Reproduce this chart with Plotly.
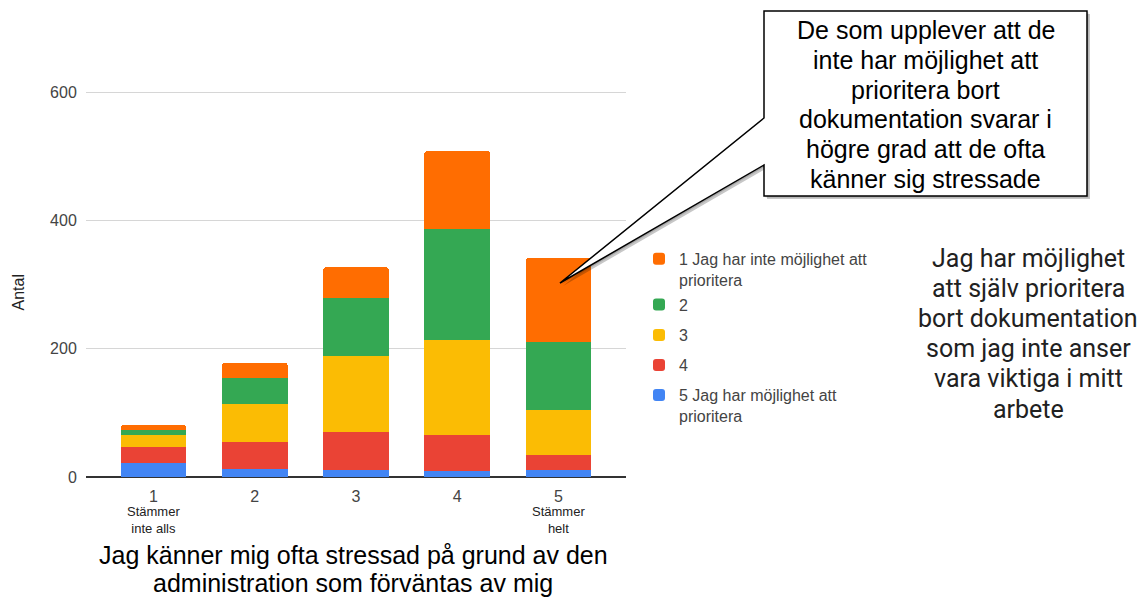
import plotly.graph_objects as go

# ---------------- data ----------------
categories = [1, 2, 3, 4, 5]
tick_labels = ["1", "2", "3", "4", "5"]
sub_labels = {1: "Stämmer<br>inte alls", 5: "Stämmer<br>helt"}

series_names = [
    "5 Jag har möjlighet att<br>prioritera",
    "4",
    "3",
    "2",
    "1 Jag har inte möjlighet att<br>prioritera",
]
series_colors = ["#4285f4", "#ea4335", "#fbbc04", "#34a853", "#ff6d01"]
v5 = [22, 13, 11, 9, 11]
v4 = [24, 41, 59, 57, 24]
v3 = [19, 60, 118, 148, 69]
v2 = [9, 41, 91, 172, 107]
v1 = [7, 23, 48, 122, 130]
series_values = [v5, v4, v3, v2, v1]

y_ticks = [0, 200, 400, 600]
y_title = "Antal"
x_title_lines = ["Jag känner mig ofta stressad på grund av den",
                 "administration som förväntas av mig"]
callout_lines = ["De som upplever att de", "inte har möjlighet att",
                 "prioritera bort", "dokumentation svarar i",
                 "högre grad att de ofta", "känner sig stressade"]
side_lines = ["Jag har möjlighet", "att själv prioritera", "bort dokumentation",
              "som jag inte anser", "vara viktiga i mitt", "arbete"]

# ---------------- layout helpers ----------------
W, H = 1144, 601
PL, PR, PT, PB = 86, 626, 28, 477


def px(x):
    return (x - PL) / (PR - PL)


def py(y):
    return (PB - y) / (PB - PT)


ARIAL = "Arial, Liberation Sans, sans-serif"

fig = go.Figure()
legend_names = ["legend5", "legend4", "legend3", "legend2", "legend"]
for name, col, vals, lg in zip(series_names, series_colors, series_values, legend_names):
    fig.add_trace(go.Bar(
        x=categories, y=vals, name=name,
        marker=dict(color=col, line=dict(width=0)),
        legend=lg, showlegend=True,
    ))

# legends (one per series, for exact vertical placement)
legend_line1_y = {"legend": 259.3, "legend2": 305, "legend3": 335.7,
                  "legend4": 365.7, "legend5": 395.7}
leg_layout = {}
for lg, yy in legend_line1_y.items():
    leg_layout[lg] = dict(
        x=px(639), xanchor="left", y=py(yy - 17.5), yanchor="top",
        font=dict(family=ARIAL, size=16, color="#444444"),
        bgcolor="rgba(0,0,0,0)", borderwidth=0, valign="top",
        itemclick=False, itemdoubleclick=False,
    )

annotations = []
# sub tick labels
for c, t in sub_labels.items():
    annotations.append(dict(
        x=c, xref="x", y=py(520), yref="paper", text=t, showarrow=False,
        font=dict(family=ARIAL, size=13, color="#222222"),
        xanchor="center", yanchor="middle", align="center"))
# y title
annotations.append(dict(
    x=px(17.5), y=py(293), xref="paper", yref="paper", text=y_title,
    textangle=-90, showarrow=False,
    font=dict(family=ARIAL, size=16, color="#222222"),
    xanchor="center", yanchor="middle"))
# x title
for i, t in enumerate(x_title_lines):
    annotations.append(dict(
        x=px(353), y=py(554.5 + i * 28.5), xref="paper", yref="paper", text=t,
        showarrow=False, font=dict(family=ARIAL, size=25, color="#000000"),
        xanchor="center", yanchor="middle"))
# side text
for i, t in enumerate(side_lines):
    annotations.append(dict(
        x=px(1028), y=py(258 + i * 30.2), xref="paper", yref="paper", text=t,
        showarrow=False, font=dict(family="Roboto, Arial, sans-serif", size=25, color="#212121"),
        xanchor="center", yanchor="middle"))
# callout text
for i, t in enumerate(callout_lines):
    annotations.append(dict(
        x=px(925.8), y=py(30 + i * 29.8), xref="paper", yref="paper", text=t,
        showarrow=False, font=dict(family=ARIAL, size=25, color="#000000"),
        xanchor="center", yanchor="middle"))

# callout bubble shape
bx0, bx1, by0, by1 = 764, 1087, 11, 196
pa, pb, tip = 118, 165, (560, 283)


def bubble(dx=0, dy=0):
    pts = [(bx0, by0), (bx1, by0), (bx1, by1), (bx0, by1), (bx0, pb), tip, (bx0, pa)]
    s = ""
    for i, (xx, yy) in enumerate(pts):
        s += ("M" if i == 0 else "L") + f"{px(xx + dx):.5f},{py(yy + dy):.5f} "
    return s + "Z"


shapes = [
    dict(type="path", path=bubble(3, 3), xref="paper", yref="paper",
         fillcolor="rgba(0,0,0,0.22)", line=dict(width=0), layer="above"),
    dict(type="path", path=bubble(1.5, 1.5), xref="paper", yref="paper",
         fillcolor="rgba(0,0,0,0.15)", line=dict(width=0), layer="above"),
    dict(type="path", path=bubble(), xref="paper", yref="paper",
         fillcolor="white", line=dict(color="#000000", width=1.5), layer="above"),
]

fig.update_layout(
    width=W, height=H,
    margin=dict(l=PL, r=W - PR, t=PT, b=H - PB, pad=0),
    paper_bgcolor="white", plot_bgcolor="white",
    barmode="stack", bargap=0.35, barcornerradius=3,
    showlegend=True,
    font=dict(family=ARIAL, color="#444444"),
    xaxis=dict(
        range=[1 - 0.667, 5 + 0.667], tickvals=categories, ticktext=tick_labels,
        showgrid=False, zeroline=False, showline=False,
        ticks="outside", ticklen=5, tickcolor="rgba(0,0,0,0)",
        tickfont=dict(family=ARIAL, size=16, color="#444444"),
        fixedrange=True,
    ),
    yaxis=dict(
        range=[0, 700], tickvals=y_ticks, showgrid=True, gridcolor="#d6d6d6",
        gridwidth=1, zeroline=True, zerolinecolor="#333333", zerolinewidth=2,
        showline=False, ticks="outside", ticklen=5, tickcolor="rgba(0,0,0,0)",
        tickfont=dict(family=ARIAL, size=16, color="#444444"),
        fixedrange=True,
    ),
    annotations=annotations,
    shapes=shapes,
    **leg_layout,
)

fig.write_html("out.html", config={"displayModeBar": False},
               post_script="document.body.style.margin='0';document.body.style.overflow='hidden';")
